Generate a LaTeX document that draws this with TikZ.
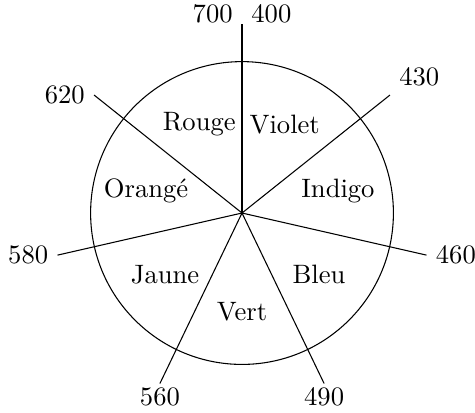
\documentclass[tikz,border=0pt]{standalone}
\usepackage{fontspec}
\tikzset{
  nm/.style = {inner sep=3.33pt}
}
\begin{document}
\begin{tikzpicture}
  \useasboundingbox (-3.197,-2.629) rectangle (3.078,2.814);
  \coordinate (O) at (0,0);
  \draw (O) circle [radius=2];
  % rayons
  \foreach \k in {0,...,6}
    \coordinate (e\k) at (90-\k*360/7:2.5);
  \foreach \k in {0,...,6}
    \draw (O) -- (e\k);
  % longueurs d'onde
  \node[nm,left,yshift=0.13cm] (l700) at (e0) {700};
  \node[nm,right,yshift=0.13cm] (l400) at (e0) {400};
  \node[nm,above right] (l430) at (e1) {430};
  \node[nm,right] (l460) at (e2) {460};
  \node[nm,below,yshift=2pt] (l490) at (e3) {490};
  \node[nm,below,yshift=2pt] (l560) at (e4) {560};
  \node[nm,left] (l580) at (e5) {580};
  \node[nm,left] (l620) at (e6) {620};
  % couleurs
  \foreach \k/\coul in {0/Violet,1/Indigo,2/Bleu,3/Vert,4/Jaune,5/Orangé,6/Rouge}
    \node (c\k) at (90-360/14-\k*360/7:1.3) {\coul};
\end{tikzpicture}
\end{document}
